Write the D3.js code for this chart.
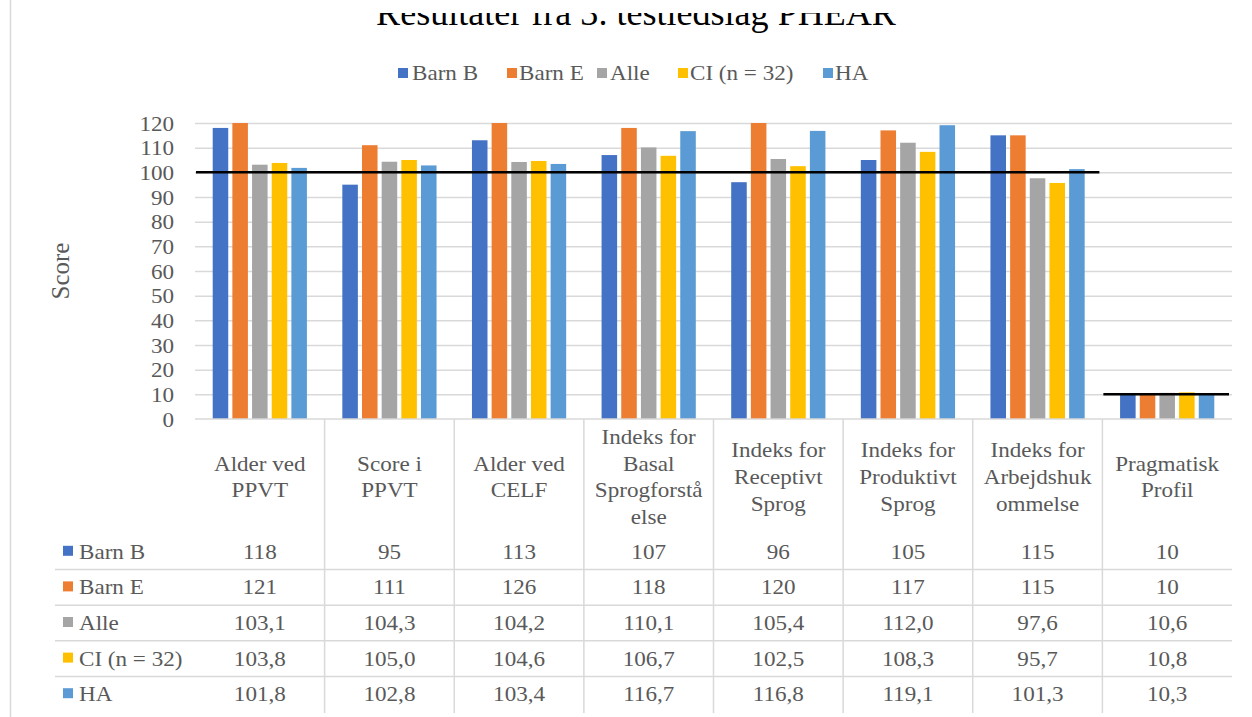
<!DOCTYPE html>
<html>
<head>
<meta charset="utf-8">
<script src="https://cdn.jsdelivr.net/npm/d3@7"></script>
<style>
  html, body { margin: 0; padding: 0; background: #fff; }
  svg text { font-family: "Liberation Serif", "Times New Roman", serif; }
</style>
</head>
<body>
<svg id="chart" width="1252" height="717"></svg>
<script>
// ---- data ----
const title = "Resultater fra 3. testledslag PHEAR";
const categories = [
  "Alder ved\nPPVT",
  "Score i\nPPVT",
  "Alder ved\nCELF",
  "Indeks for\nBasal\nSprogforstå\nelse",
  "Indeks for\nReceptivt\nSprog",
  "Indeks for\nProduktivt\nSprog",
  "Indeks for\nArbejdshuk\nommelse",
  "Pragmatisk\nProfil"
];
const seriesNames = ["Barn B", "Barn E", "Alle", "CI (n = 32)", "HA"];
const seriesColors = ["#4472C4", "#ED7D31", "#A5A5A5", "#FFC000", "#5B9BD5"];
const seriesDecimals = [0, 0, 1, 1, 1];
const barnB = [118, 95, 113, 107, 96, 105, 115, 10];
const barnE = [121, 111, 126, 118, 120, 117, 115, 10];
const alle  = [103.1, 104.3, 104.2, 110.1, 105.4, 112.0, 97.6, 10.6];
const ci    = [103.8, 105.0, 104.6, 106.7, 102.5, 108.3, 95.7, 10.8];
const ha    = [101.8, 102.8, 103.4, 116.7, 116.8, 119.1, 101.3, 10.3];
const seriesValues = [barnB, barnE, alle, ci, ha];
const yTicks = [0, 10, 20, 30, 40, 50, 60, 70, 80, 90, 100, 110, 120];
const yLabel = "Score";
// reference lines: value, first category index, last category index
const refLines = [
  { value: 100, from: 0, to: 6 },
  { value: 10, from: 7, to: 7 }
];

// ---- layout ----
const FONT = "Liberation Serif, Times New Roman, serif";
const FS = 21, SX = 1.1;
const svg = d3.select("#chart");
const textColor = "#595959";
const gridColor = "#D9D9D9";
const plotLeft = 195, plotRight = 1232, plotTop = 123, plotBottom = 419;

// helper: text slightly widened horizontally, as in the reference
function stext(parent, x, y, str, anchor) {
  return parent.append("text")
    .attr("transform", `translate(${x},${y}) scale(${SX},1)`)
    .attr("text-anchor", anchor || "start")
    .attr("font-family", FONT).attr("font-size", FS).attr("fill", textColor)
    .text(str);
}

const x = d3.scaleBand().domain(d3.range(categories.length))
  .range([plotLeft, plotRight]).paddingInner(0).paddingOuter(0);
const xs = d3.scaleBand().domain(d3.range(seriesNames.length))
  .range([0, x.bandwidth()]).paddingInner(0.21).paddingOuter(0.9);
const y = d3.scaleLinear().domain([0, 120]).range([plotBottom, plotTop]).clamp(true);

// left border
svg.append("line").attr("x1", 10.5).attr("x2", 10.5).attr("y1", 0).attr("y2", 717)
  .attr("stroke", gridColor).attr("stroke-width", 1.5);

// title (top cut off as in the reference)
svg.append("defs").append("clipPath").attr("id", "titleClip")
  .append("rect").attr("x", 0).attr("y", 13).attr("width", 1252).attr("height", 40);
const titleText = svg.append("text").attr("clip-path", "url(#titleClip)")
  .attr("x", 636).attr("y", 25).attr("text-anchor", "middle")
  .attr("font-family", FONT).attr("font-size", 30).attr("fill", "#000").text(title);
const tw = titleText.node().getComputedTextLength();
if (tw > 0) titleText.attr("font-size", 30 * 520 / tw);

// legend
const legendItems = [
  { mx: 398, tx: 412 }, { mx: 507, tx: 519 }, { mx: 597, tx: 610 },
  { mx: 678, tx: 690 }, { mx: 823, tx: 835 }
];
const lg = svg.append("g");
seriesNames.forEach((s, i) => {
  lg.append("rect").attr("x", legendItems[i].mx).attr("y", 68).attr("width", 10).attr("height", 10)
    .attr("fill", seriesColors[i]);
  stext(lg, legendItems[i].tx, 80, s);
});

// grid lines + y ticks
const yAxis = d3.axisLeft(y).tickValues(yTicks).tickSize(-(plotRight - plotLeft)).tickPadding(22);
const yg = svg.append("g").attr("transform", `translate(${plotLeft},0)`).call(yAxis)
  .attr("font-family", FONT);
yg.select(".domain").remove();
yg.selectAll(".tick line").attr("stroke", gridColor).attr("stroke-width", 1.5);
yg.selectAll(".tick text").attr("font-size", FS).attr("fill", textColor)
  .attr("font-family", FONT).attr("x", -21 / SX).attr("dy", "0.34em")
  .attr("transform", `scale(${SX},1)`);
yg.selectAll(".tick").filter(d => d === 0).select("line").remove();

// y-axis label
svg.append("text").attr("transform", "translate(69,271) rotate(-90)")
  .attr("text-anchor", "middle").attr("font-family", FONT).attr("font-size", 25)
  .attr("fill", textColor).text(yLabel);

// bars
const groups = svg.append("g").selectAll("g").data(categories).join("g")
  .attr("transform", (d, i) => `translate(${x(i)},0)`);
groups.selectAll("rect").data((d, ci) => seriesValues.map((vals, si) => ({ si, v: vals[ci] })))
  .join("rect")
  .attr("x", d => xs(d.si)).attr("width", xs.bandwidth())
  .attr("y", d => y(d.v)).attr("height", d => plotBottom - y(d.v))
  .attr("fill", d => seriesColors[d.si]);

// axis baseline
svg.append("line").attr("x1", plotLeft).attr("x2", plotRight)
  .attr("y1", y(0)).attr("y2", y(0)).attr("stroke", gridColor).attr("stroke-width", 1.5);

// reference lines
refLines.forEach(r => {
  svg.append("line")
    .attr("x1", x(r.from) + 1).attr("x2", x(r.to) + x.bandwidth() - 3)
    .attr("y1", y(r.value)).attr("y2", y(r.value))
    .attr("stroke", "#000").attr("stroke-width", 2.5);
});

// data table
const tableBottom = 713;
const rowTop = 534, rowH = 35.6;
for (let i = 1; i < categories.length; i++) {
  svg.append("line").attr("x1", x(i)).attr("x2", x(i))
    .attr("y1", plotBottom).attr("y2", tableBottom)
    .attr("stroke", gridColor).attr("stroke-width", 1.5);
}
for (let r = 1; r < seriesNames.length; r++) {
  const yy = rowTop + r * rowH;
  svg.append("line").attr("x1", 55).attr("x2", plotRight)
    .attr("y1", yy).attr("y2", yy).attr("stroke", gridColor).attr("stroke-width", 1.5);
}
// category labels
const lineH = 26.6, labelCenter = 477;
const labG = svg.append("g");
categories.forEach((c, i) => {
  const lines = c.split("\n");
  lines.forEach((ln, k) => {
    stext(labG, x(i) + x.bandwidth() / 2,
      labelCenter + (k - (lines.length - 1) / 2) * lineH + 7, ln, "middle");
  });
});
// rows
const fmt = (v, dec) => v.toFixed(dec).replace(".", ",");
const tabG = svg.append("g");
seriesNames.forEach((s, r) => {
  const cy = rowTop + r * rowH + rowH / 2;
  tabG.append("rect").attr("x", 63).attr("y", cy - 6).attr("width", 10).attr("height", 10)
    .attr("fill", seriesColors[r]);
  stext(tabG, 79, cy + 7, s);
  seriesValues[r].forEach((v, i) => {
    stext(tabG, x(i) + x.bandwidth() / 2, cy + 7, fmt(v, seriesDecimals[r]), "middle");
  });
});
</script>
</body>
</html>
